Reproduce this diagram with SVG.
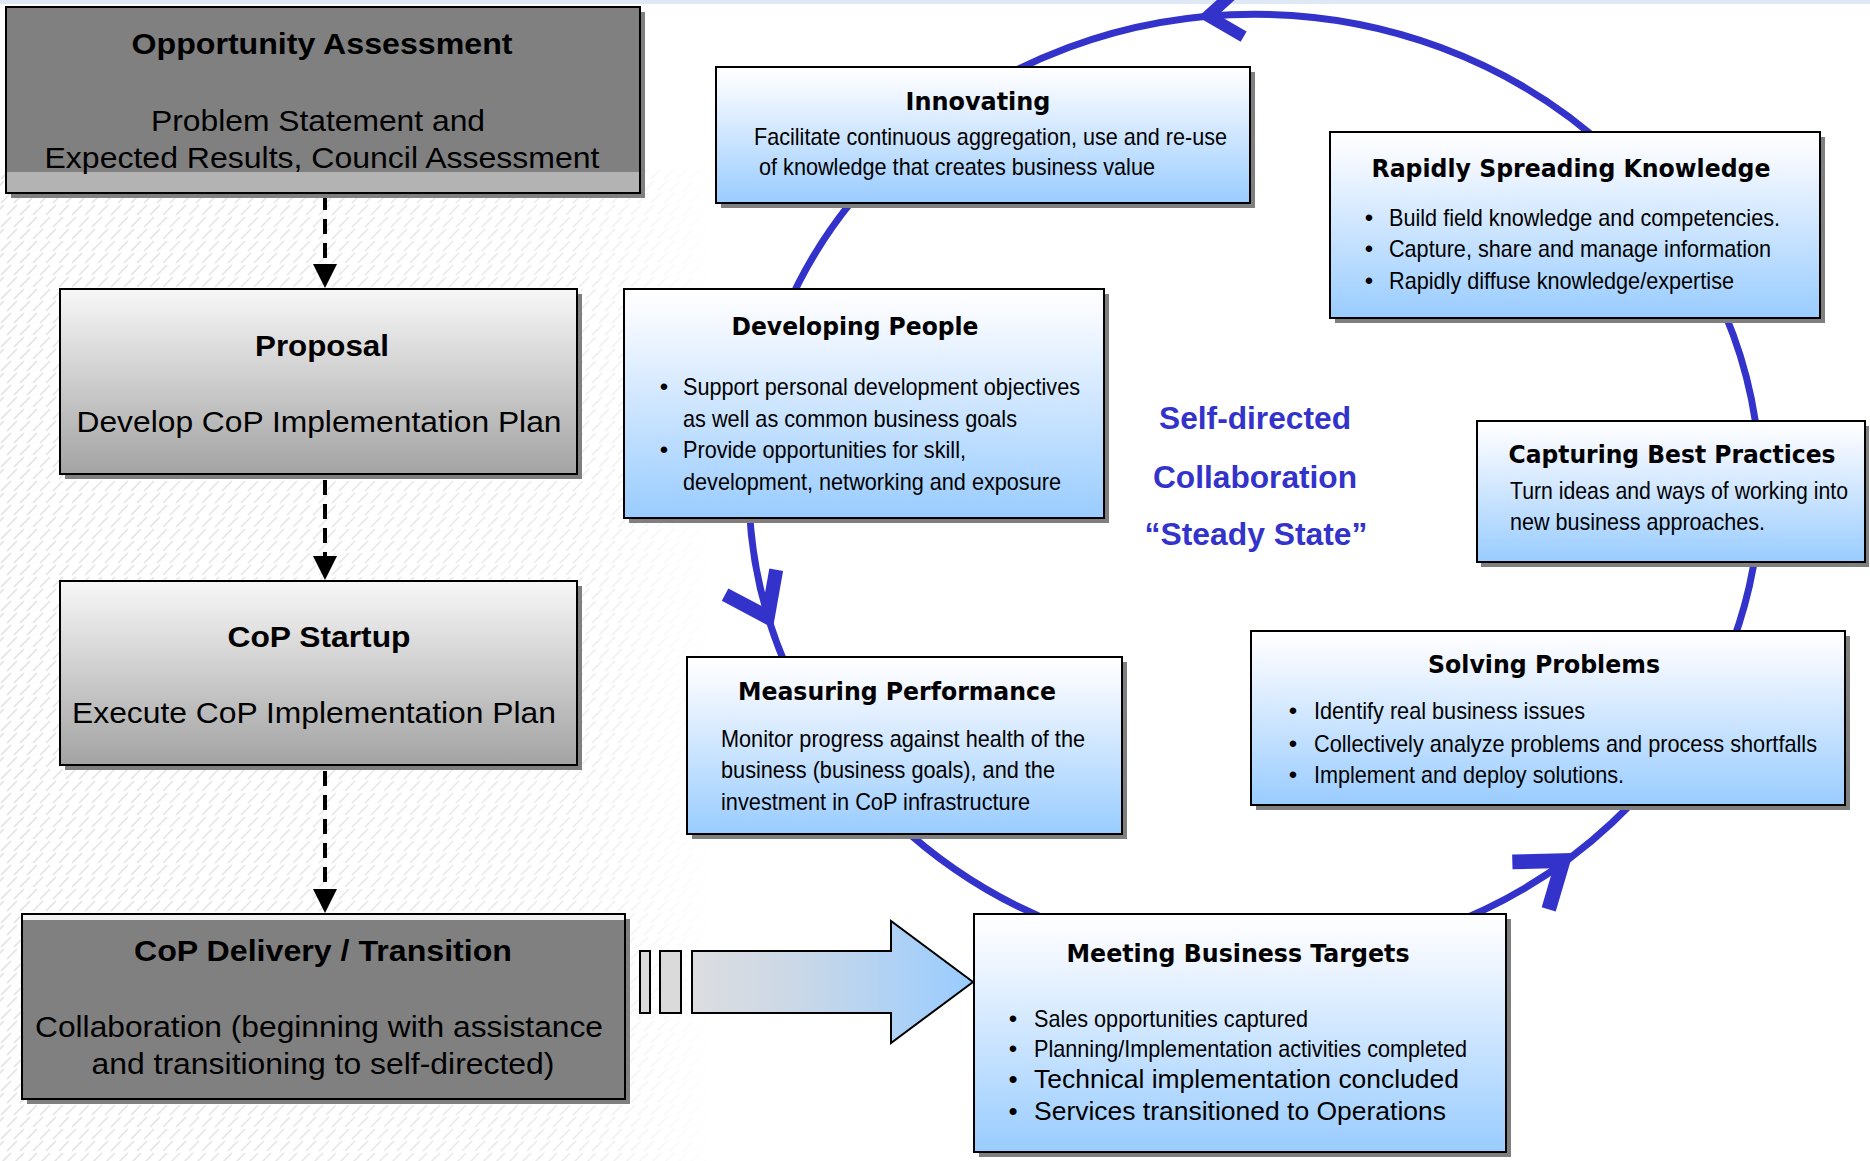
<svg xmlns="http://www.w3.org/2000/svg" xmlns:xlink="http://www.w3.org/1999/xlink" width="1870" height="1161" viewBox="0 0 1870 1161">
  <defs>
    <style>
      .shadow { fill: #7f7f7f; }
      .box { stroke: #000; stroke-width: 2; }
      .blue { fill: url(#blueFill); }
      .grey { fill: url(#greyFill); }
      .dark { fill: #808080; }
      .lt { font-family: "Liberation Sans", Arial, sans-serif; fill: #000; }
      .lt-b { font-family: "Liberation Sans", Arial, sans-serif; font-weight: bold; fill: #000; }
      .head { font-family: "DejaVu Sans", Verdana, sans-serif; font-weight: bold; font-size: 24px; fill: #000; }
      .body { font-family: "Liberation Sans Narrow", "Liberation Sans", Arial, sans-serif; font-size: 24px; fill: #000; }
      .mid { text-anchor: middle; }
      .hub { font-family: "Liberation Sans", Arial, sans-serif; font-weight: bold; font-size: 31px; fill: #3333cc; text-anchor: middle; }
      .cycle { fill: none; stroke: #3333cc; stroke-width: 7; }
      .barb { fill: #3333cc; }
      .flow { stroke: #000; stroke-width: 4; stroke-dasharray: 15 9; fill: none; }
      .tri { fill: #000; }
    </style>
    <linearGradient id="blueFill" x1="0" y1="0" x2="0" y2="1">
      <stop offset="0" stop-color="#ffffff"/>
      <stop offset="0.15" stop-color="#f4f8ff"/>
      <stop offset="1" stop-color="#99ccff"/>
    </linearGradient>
    <linearGradient id="greyFill" x1="0" y1="0" x2="0" y2="1">
      <stop offset="0" stop-color="#f7f7f7"/>
      <stop offset="1" stop-color="#a3a3a3"/>
    </linearGradient>
    <linearGradient id="arrowFill" gradientUnits="userSpaceOnUse" x1="692" y1="0" x2="973" y2="0">
      <stop offset="0" stop-color="#dcdde0"/>
      <stop offset="0.35" stop-color="#ccd8e6"/>
      <stop offset="1" stop-color="#99ccff"/>
    </linearGradient>
    <linearGradient id="fadeX" gradientUnits="userSpaceOnUse" x1="0" y1="0" x2="720" y2="0">
      <stop offset="0" stop-color="#fff" stop-opacity="1"/>
      <stop offset="0.8" stop-color="#fff" stop-opacity="0.7"/>
      <stop offset="1" stop-color="#fff" stop-opacity="0"/>
    </linearGradient>
    <mask id="fadeMask" maskUnits="userSpaceOnUse" x="0" y="0" width="1870" height="1161">
      <rect x="0" y="170" width="720" height="991" fill="url(#fadeX)"/>
    </mask>
    <pattern id="weave" width="26" height="24" patternUnits="userSpaceOnUse">
      <path d="M1,11 L11,1 M14,11 L24,1 M7,23 L17,13 M20,23 L30,13 M-6,23 L4,13" stroke="#e3e3e3" stroke-width="1.6" fill="none"/>
    </pattern>
    <!-- barbed arrowhead on the cycle, tip at origin pointing along +x -->
    <path id="barbHead" d="M0,0 L-46.9,-34.1 L-55.1,-22.8 L-23.8,0 L-55.1,22.8 L-46.9,34.1 Z"/>
  </defs>

  <!-- page background -->
  <rect x="0" y="0" width="1870" height="1161" fill="#ffffff"/>
  <rect x="0" y="0" width="1870" height="4" fill="#dfe9f5"/>
  <rect x="0" y="170" width="720" height="991" fill="url(#weave)" mask="url(#fadeMask)"/>

  <!-- connectors -->
  <g id="connectors">
    <!-- self-directed collaboration cycle -->
    <ellipse class="cycle" cx="1254.6" cy="487.8" rx="505.7" ry="473.5"/>
    <use xlink:href="#barbHead" class="barb" transform="translate(1198,17) rotate(174) scale(0.85)"/>
    <use xlink:href="#barbHead" class="barb" transform="translate(773,628) rotate(64)"/>
    <use xlink:href="#barbHead" class="barb" transform="translate(1573,853) rotate(-37.5) scale(1.05)"/>

    <!-- phase flow -->
    <line class="flow" x1="325" y1="195" x2="325" y2="264"/>
    <polygon class="tri" points="313,264 337,264 325,288"/>
    <line class="flow" x1="325" y1="480" x2="325" y2="556"/>
    <polygon class="tri" points="313,556 337,556 325,580"/>
    <line class="flow" x1="325" y1="771" x2="325" y2="889"/>
    <polygon class="tri" points="313,889 337,889 325,913"/>

    <!-- hand-over block arrow -->
    <rect x="640" y="951" width="10" height="62" fill="#dadada" stroke="#000" stroke-width="2"/>
    <rect x="660" y="951" width="21" height="62" fill="#dadada" stroke="#000" stroke-width="2"/>
    <path d="M692,951 L891,951 L891,921 L973,982 L891,1043 L891,1013 L692,1013 Z" fill="url(#arrowFill)" stroke="#000" stroke-width="2"/>
  </g>

  <!-- left column: phases -->
  <g id="opportunity-assessment">
    <rect class="shadow" x="11" y="12" width="634" height="186"/>
    <rect class="dark" x="6" y="7" width="634" height="186"/>
    <rect x="6" y="172" width="634" height="21" fill="#b3b3b3"/>
    <rect x="6" y="7" width="634" height="186" fill="none" class="box"/>
    <text class="lt-b mid" x="322" y="54" font-size="29" textLength="381" lengthAdjust="spacingAndGlyphs">Opportunity Assessment</text>
    <text class="lt mid" x="318" y="131" font-size="29" textLength="334" lengthAdjust="spacingAndGlyphs">Problem Statement and</text>
    <text class="lt mid" x="322" y="168" font-size="29" textLength="555" lengthAdjust="spacingAndGlyphs">Expected Results, Council Assessment</text>
  </g>

  <g id="proposal">
    <rect class="shadow" x="65" y="294" width="517" height="185"/>
    <rect class="grey box" x="60" y="289" width="517" height="185"/>
    <text class="lt-b mid" x="322" y="356" font-size="29" textLength="134" lengthAdjust="spacingAndGlyphs">Proposal</text>
    <text class="lt mid" x="319" y="432" font-size="30" textLength="485" lengthAdjust="spacingAndGlyphs">Develop CoP Implementation Plan</text>
  </g>

  <g id="cop-startup">
    <rect class="shadow" x="65" y="586" width="517" height="184"/>
    <rect class="grey box" x="60" y="581" width="517" height="184"/>
    <text class="lt-b mid" x="319" y="647" font-size="29" textLength="183" lengthAdjust="spacingAndGlyphs">CoP Startup</text>
    <text class="lt mid" x="314" y="723" font-size="30" textLength="484" lengthAdjust="spacingAndGlyphs">Execute CoP Implementation Plan</text>
  </g>

  <g id="cop-delivery">
    <rect class="shadow" x="27" y="919" width="603" height="185"/>
    <rect class="dark" x="22" y="914" width="603" height="185"/>
    <rect x="22" y="914" width="603" height="6" fill="#f2f2f2"/>
    <rect x="22" y="914" width="603" height="185" fill="none" class="box"/>
    <text class="lt-b mid" x="323" y="961" font-size="29" textLength="378" lengthAdjust="spacingAndGlyphs">CoP Delivery / Transition</text>
    <text class="lt mid" x="319" y="1037" font-size="29" textLength="568" lengthAdjust="spacingAndGlyphs">Collaboration (beginning with assistance</text>
    <text class="lt mid" x="323" y="1074" font-size="29" textLength="463" lengthAdjust="spacingAndGlyphs">and transitioning to self-directed)</text>
  </g>

  <!-- cycle: practices -->
  <g id="innovating">
    <rect class="shadow" x="721" y="72" width="534" height="136"/>
    <rect class="blue box" x="716" y="67" width="534" height="136"/>
    <text class="head mid" x="978" y="110" textLength="145" lengthAdjust="spacingAndGlyphs">Innovating</text>
    <text class="body" x="754" y="145" textLength="473" lengthAdjust="spacingAndGlyphs">Facilitate continuous aggregation, use and re-use</text>
    <text class="body" x="759" y="175" textLength="396" lengthAdjust="spacingAndGlyphs">of knowledge that creates business value</text>
  </g>

  <g id="rapidly-spreading-knowledge">
    <rect class="shadow" x="1335" y="137" width="490" height="186"/>
    <rect class="blue box" x="1330" y="132" width="490" height="186"/>
    <text class="head mid" x="1571" y="177" textLength="399" lengthAdjust="spacingAndGlyphs">Rapidly Spreading Knowledge</text>
    <text class="body mid" x="1369" y="226">•</text>
    <text class="body mid" x="1369" y="257">•</text>
    <text class="body mid" x="1369" y="289">•</text>
    <text class="body" x="1389" y="226" textLength="391" lengthAdjust="spacingAndGlyphs">Build field knowledge and competencies.</text>
    <text class="body" x="1389" y="257" textLength="382" lengthAdjust="spacingAndGlyphs">Capture, share and manage information</text>
    <text class="body" x="1389" y="289" textLength="345" lengthAdjust="spacingAndGlyphs">Rapidly diffuse knowledge/expertise</text>
  </g>

  <g id="capturing-best-practices">
    <rect class="shadow" x="1481" y="426" width="388" height="141"/>
    <rect class="blue box" x="1477" y="421" width="388" height="141"/>
    <text class="head mid" x="1672" y="463" textLength="327" lengthAdjust="spacingAndGlyphs">Capturing Best Practices</text>
    <text class="body" transform="translate(1510,499) scale(0.885,1)" x="0" y="0">Turn ideas and ways of working into</text>
    <text class="body" x="1510" y="530" textLength="255" lengthAdjust="spacingAndGlyphs">new business approaches.</text>
  </g>

  <g id="developing-people">
    <rect class="shadow" x="629" y="294" width="480" height="229"/>
    <rect class="blue box" x="624" y="289" width="480" height="229"/>
    <text class="head mid" x="855" y="335" textLength="247" lengthAdjust="spacingAndGlyphs">Developing People</text>
    <text class="body mid" x="664" y="395">•</text>
    <text class="body mid" x="664" y="458">•</text>
    <text class="body" x="683" y="395" textLength="397" lengthAdjust="spacingAndGlyphs">Support personal development objectives</text>
    <text class="body" x="683" y="427" textLength="334" lengthAdjust="spacingAndGlyphs">as well as common business goals</text>
    <text class="body" x="683" y="458" textLength="283" lengthAdjust="spacingAndGlyphs">Provide opportunities for skill,</text>
    <text class="body" x="683" y="490" textLength="378" lengthAdjust="spacingAndGlyphs">development, networking and exposure</text>
  </g>

  <g id="measuring-performance">
    <rect class="shadow" x="692" y="662" width="435" height="177"/>
    <rect class="blue box" x="687" y="657" width="435" height="177"/>
    <text class="head mid" x="897" y="700" textLength="318" lengthAdjust="spacingAndGlyphs">Measuring Performance</text>
    <text class="body" x="721" y="747" textLength="364" lengthAdjust="spacingAndGlyphs">Monitor progress against health of the</text>
    <text class="body" x="721" y="778" textLength="334" lengthAdjust="spacingAndGlyphs">business (business goals), and the</text>
    <text class="body" x="721" y="810" textLength="309" lengthAdjust="spacingAndGlyphs">investment in CoP infrastructure</text>
  </g>

  <g id="solving-problems">
    <rect class="shadow" x="1256" y="636" width="594" height="174"/>
    <rect class="blue box" x="1251" y="631" width="594" height="174"/>
    <text class="head mid" x="1544" y="673" textLength="232" lengthAdjust="spacingAndGlyphs">Solving Problems</text>
    <text class="body mid" x="1293" y="719">•</text>
    <text class="body mid" x="1293" y="752">•</text>
    <text class="body mid" x="1293" y="783">•</text>
    <text class="body" x="1314" y="719" textLength="271" lengthAdjust="spacingAndGlyphs">Identify real business issues</text>
    <text class="body" x="1314" y="752" textLength="503" lengthAdjust="spacingAndGlyphs">Collectively analyze problems and process shortfalls</text>
    <text class="body" x="1314" y="783" textLength="310" lengthAdjust="spacingAndGlyphs">Implement and deploy solutions.</text>
  </g>

  <g id="meeting-business-targets">
    <rect class="shadow" x="979" y="919" width="532" height="238"/>
    <rect class="blue box" x="974" y="914" width="532" height="238"/>
    <text class="head mid" x="1238" y="962" textLength="343" lengthAdjust="spacingAndGlyphs">Meeting Business Targets</text>
    <text class="body mid" x="1013" y="1027">•</text>
    <text class="body mid" x="1013" y="1057">•</text>
    <text class="lt mid" x="1013" y="1088" font-size="26">•</text>
    <text class="lt mid" x="1013" y="1120" font-size="26">•</text>
    <text class="body" x="1034" y="1027" textLength="274" lengthAdjust="spacingAndGlyphs">Sales opportunities captured</text>
    <text class="body" x="1034" y="1057" textLength="433" lengthAdjust="spacingAndGlyphs">Planning/Implementation activities completed</text>
    <text class="lt" x="1034" y="1088" font-size="26" textLength="425" lengthAdjust="spacingAndGlyphs">Technical implementation concluded</text>
    <text class="lt" x="1034" y="1120" font-size="26" textLength="412" lengthAdjust="spacingAndGlyphs">Services transitioned to Operations</text>
  </g>

  <g id="steady-state">
    <text class="hub" x="1255" y="429" textLength="192" lengthAdjust="spacingAndGlyphs">Self-directed</text>
    <text class="hub" x="1255" y="488" textLength="204" lengthAdjust="spacingAndGlyphs">Collaboration</text>
    <text class="hub" x="1256" y="545" textLength="223" lengthAdjust="spacingAndGlyphs">“Steady State”</text>
  </g>
</svg>
